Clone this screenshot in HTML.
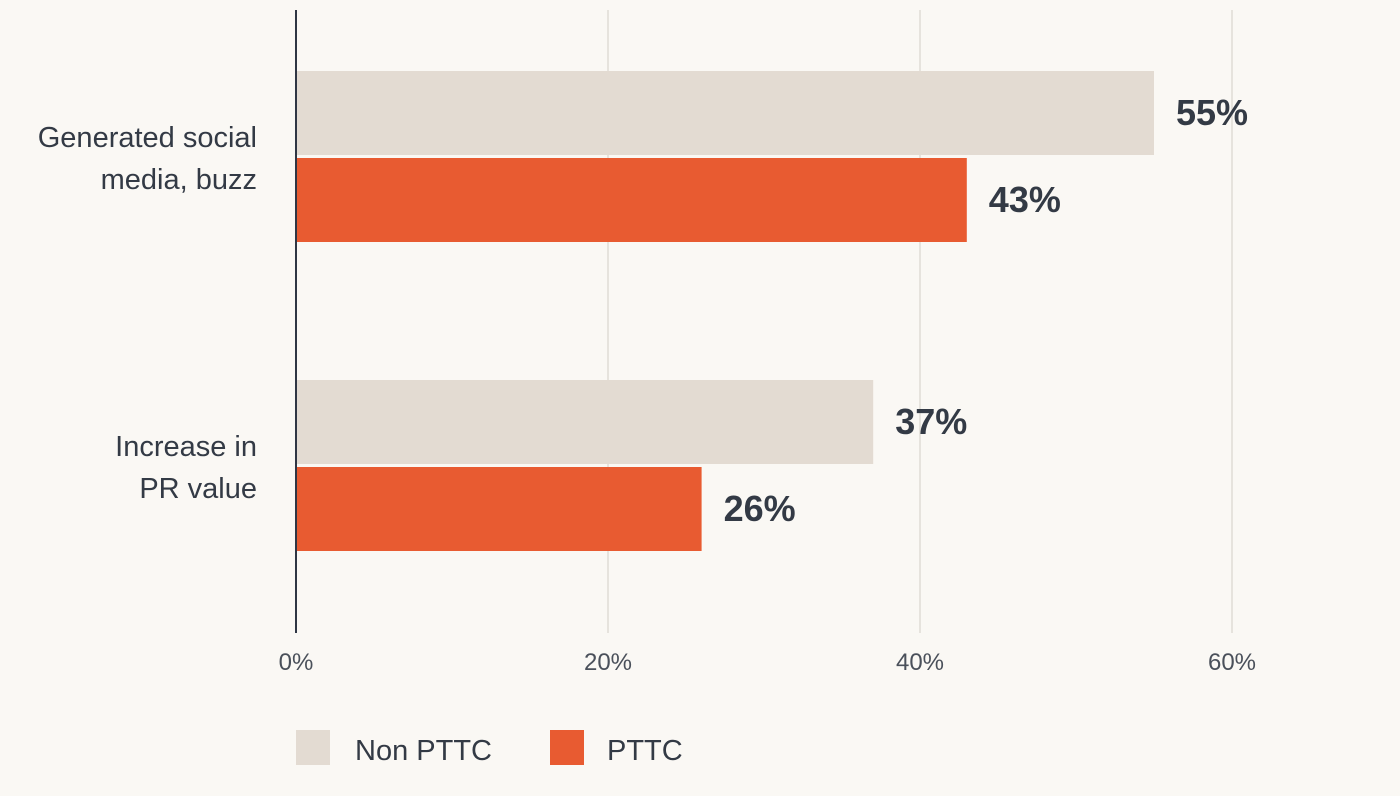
<!DOCTYPE html>
<html><head><meta charset="utf-8"><style>
html,body{margin:0;padding:0;background:#faf8f4;}
svg{display:block;font-family:"Liberation Sans",sans-serif;}
</style></head><body>
<svg id="chart" width="1400" height="796" viewBox="0 0 1400 796">
<rect width="1400" height="796" fill="#faf8f4"/>
<g id="grid"></g><g id="bars"></g><g id="labels"></g>
<line x1="296" y1="10" x2="296" y2="633" stroke="#2f3644" stroke-width="2"/>
<g>
<rect x="296" y="730" width="34" height="35" fill="#e3dbd2"/>
<text x="355" y="760" font-size="29" fill="#333a45">Non PTTC</text>
<rect x="550" y="730" width="34" height="35" fill="#e85b31"/>
<text x="607" y="760" font-size="29" fill="#333a45">PTTC</text>
</g>
</svg>
<script>
const categories=[["Generated social","media, buzz"],["Increase in","PR value"]];
const nonPttc=[55,37];
const pttc=[43,26];
const ticks=[0,20,40,60];
const NS="http://www.w3.org/2000/svg";
const x0=296,pxPer=15.6;
const xs=v=>x0+v*pxPer;
const groupTop=[71,380];
function mk(tag,attrs,parent){const e=document.createElementNS(NS,tag);for(const k in attrs)e.setAttribute(k,attrs[k]);parent.appendChild(e);return e;}
const grid=document.getElementById('grid'),bars=document.getElementById('bars'),labels=document.getElementById('labels');
ticks.forEach(t=>{
  if(t>0){const l=mk('line',{x1:xs(t),x2:xs(t),y1:10,y2:633,stroke:'#e6e3dd','stroke-width':2},grid);
  
  }
  const tx=mk('text',{x:xs(t),y:670,'text-anchor':'middle','font-size':24,fill:'#4a505a'},labels);
  tx.textContent=t+'%';
  
  
});
categories.forEach((c,i)=>{
  const top=groupTop[i];
  const series=[[nonPttc[i],'#e3dbd2','non-pttc',top],[pttc[i],'#e85b31','pttc',top+87]];
  series.forEach(([v,col,nm,y])=>{
    const r=mk('rect',{x:x0,y:y,width:xs(v)-x0,height:84,fill:col},bars);
    
    
    const t=mk('text',{x:xs(v)+22,y:y+54,'font-size':36,'font-weight':'bold',fill:'#333a45'},labels);
    t.textContent=v+'%';
    
    
  });
  c.forEach((line,j)=>{
    const t=mk('text',{x:257,y:top+76+j*42,'text-anchor':'end','font-size':29,fill:'#333a45'},labels);
    t.textContent=line;
    
    
  });
});
</script>
</body></html>
